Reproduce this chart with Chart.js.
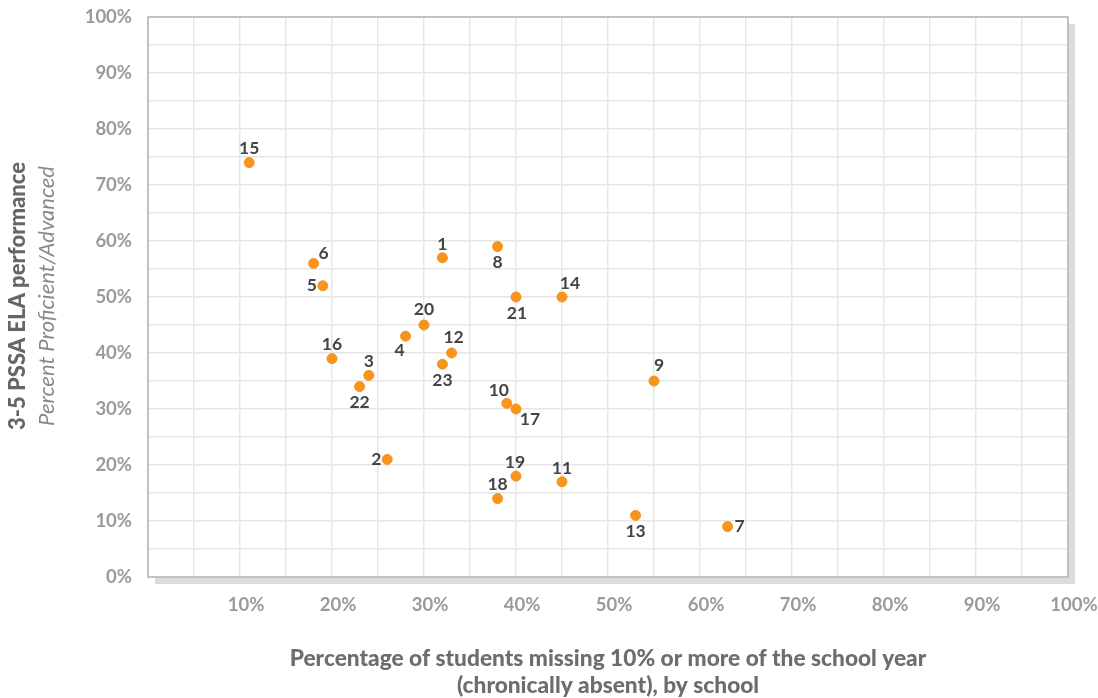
<!DOCTYPE html>
<html>
<head>
<meta charset="utf-8">
<script src="https://cdn.jsdelivr.net/npm/chart.js@4"></script>
<style>
  body{margin:0;background:#fff;}
  #wrap{width:1098px;height:698px;}
</style>
</head>
<body>
<div id="wrap"><canvas id="grafico" width="1098" height="698"></canvas></div>
<script>
// school numbers and values
const schools = ["1","2","3","4","5","6","7","8","9","10","11","12","13","14","15","16","17","18","19","20","21","22","23"];
const absent  = [32,26,24,28,19,18,63,38,55,39,45,33,53,45,11,20,40,38,40,30,40,23,32];
const prof    = [57,21,36,43,52,56,9,59,35,31,17,40,11,50,74,39,30,14,18,45,50,34,38];
const xTicks = [10,20,30,40,50,60,70,80,90,100];
const yTicks = [0,10,20,30,40,50,60,70,80,90,100];

// where each number sits next to its dot (dx, dy in px)
const labelPos = {
  "1":[0,-13],"2":[-11,0],"3":[0,-14],"4":[-6,14],"5":[-11,0],"6":[10,-10],
  "7":[12,0],"8":[0,16],"9":[5,-16],"10":[-8,-13],"11":[0,-13],"12":[2,-16],
  "13":[0,16],"14":[8,-14],"15":[0,-14],"16":[0,-14],"17":[14,10],"18":[0,-14],
  "19":[-1,-14],"20":[0,-16],"21":[1,16],"22":[0,16],"23":[0,16]
};

const punti = schools.map((s,i)=>({x:absent[i],y:prof[i],nome:s}));

const sfondo = {
  id:'sfondo',
  beforeDraw(chart){
    const c=chart.ctx, a=chart.chartArea;
    c.save();
    c.fillStyle='#dcdcdd';
    c.fillRect(a.left+7,a.top+7,a.right-a.left,a.bottom-a.top);
    c.fillStyle='#fff';
    c.fillRect(a.left,a.top,a.right-a.left,a.bottom-a.top);
    c.restore();
  },
  afterDatasetsDraw(chart){
    const c=chart.ctx, a=chart.chartArea;
    c.save();
    c.strokeStyle='#b4b4b4';
    c.lineWidth=1.5;
    c.strokeRect(a.left,a.top,a.right-a.left,a.bottom-a.top);
    // numbers next to dots
    const meta=chart.getDatasetMeta(0);
    c.font='bold 17.5px Lato';
    c.fillStyle='#444';
    c.textAlign='center';
    c.textBaseline='middle';
    meta.data.forEach((p,i)=>{
      const n=punti[i].nome, o=labelPos[n];
      c.fillText(n,p.x+o[0],p.y+o[1]);
    });
    c.restore();
  },
  afterDraw(chart){
    const c=chart.ctx;
    c.save();
    c.fillStyle='#6d6d6f';
    c.textAlign='center';
    c.textBaseline='middle';
    c.font='900 22.7px Lato';
    c.fillText('Percentage of students missing 10% or more of the school year',608,659);
    c.fillText('(chronically absent), by school',608,686);
    c.translate(18,296);
    c.rotate(-Math.PI/2);
    c.fillStyle='#666';
    c.font='900 22px Lato';
    c.fillText('3-5 PSSA ELA performance',0,0);
    c.fillStyle='#888';
    c.font='italic 22px Lato';
    c.fillText('Percent Proficient/Advanced',0,29);
    c.restore();
  }
};

new Chart(document.getElementById('grafico').getContext('2d'),{
  type:'scatter',
  data:{
    datasets:[{
      data:punti,
      backgroundColor:'#f7941e',
      borderColor:'#f7941e',
      pointRadius:5,
      pointHoverRadius:5
    }]
  },
  options:{
    responsive:false,
    animation:false,
    devicePixelRatio:1,
    layout:{padding:{top:17,right:30,left:0,bottom:0}},
    plugins:{legend:{display:false},tooltip:{enabled:false}},
    scales:{
      x:{
        min:0,max:100,
        border:{display:false},
        grid:{color:'#e6e6e6',lineWidth:1.5,drawTicks:false},
        afterBuildTicks(s){
          const t=[];
          for(let v=0;v<=100;v+=5) t.push({value:v});
          s.ticks=t;
        },
        afterFit(s){ s.height=121; s.paddingLeft=0; s.paddingRight=0; },
        ticks:{
          autoSkip:false,maxRotation:0,padding:17,labelOffset:6,
          color:'#9a9a9a',font:{family:'Lato',size:18.5,weight:'bold'},
          callback:v=>xTicks.includes(v)?v+'%':''
        }
      },
      y:{
        min:0,max:100,
        border:{display:false},
        grid:{color:'#e6e6e6',lineWidth:1.5,drawTicks:false},
        afterBuildTicks(s){
          const t=[];
          for(let v=0;v<=100;v+=5) t.push({value:v});
          s.ticks=t;
        },
        afterFit(s){ s.width=148; s.paddingTop=0; s.paddingBottom=0; },
        ticks:{
          autoSkip:false,padding:16,
          color:'#9a9a9a',font:{family:'Lato',size:18.5,weight:'bold'},
          callback:v=>yTicks.includes(v)?v+'%':''
        }
      }
    }
  },
  plugins:[sfondo]
});
</script>
</body>
</html>
